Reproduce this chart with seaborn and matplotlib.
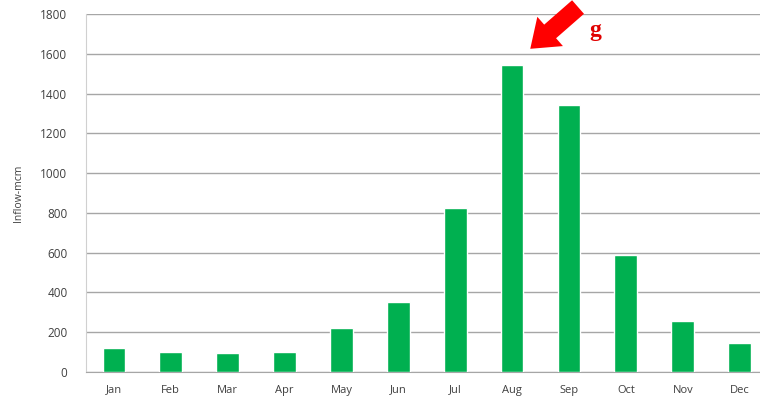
import matplotlib
matplotlib.use("Agg")
import matplotlib.pyplot as plt
import seaborn as sns
import pandas as pd

months = ["Jan", "Feb", "Mar", "Apr", "May", "Jun", "Jul", "Aug", "Sep", "Oct", "Nov", "Dec"]
inflow = [120, 100, 95, 100, 220, 350, 825, 1545, 1340, 590, 255, 145]
y_ticks = [0, 200, 400, 600, 800, 1000, 1200, 1400, 1600, 1800]

sns.set_style("white")
plt.rcParams["font.family"] = ["Open Sans", "DejaVu Sans"]

df = pd.DataFrame({"month": months, "inflow": inflow})

fig = plt.figure(figsize=(7.6, 4.11), dpi=100)
ax = fig.add_axes([85.5 / 760, 39 / 411, 682.5 / 760, 358 / 411])

sns.barplot(data=df, x="month", y="inflow", color="#00B050", saturation=1,
            width=0.40, ax=ax, zorder=3)

ax.set_ylim(0, 1800)
ax.set_xlim(-0.5, 11.5)
ax.set_yticks(y_ticks)
ax.yaxis.grid(True, color="#a6a6a6", linewidth=1.0, zorder=0)
ax.set_axisbelow(True)

for side in ["top", "right"]:
    ax.spines[side].set_visible(False)
ax.spines["left"].set_color("#d0d0d0")
ax.spines["bottom"].set_color("#a6a6a6")

ax.tick_params(axis="y", length=5, color="#a6a6a6", labelsize=8.5, pad=8, labelcolor="#404040")
ax.tick_params(axis="x", length=0, labelsize=8, pad=9, labelcolor="#404040")
# category separators below the x axis
ax.set_xticks([i + 0.5 for i in range(-1, 12)], minor=True)
ax.tick_params(axis="x", which="minor", length=5, color="#c0c0c0", direction="out")

ax.set_xlabel("")
ax.set_ylabel("Inflow-mcm", fontsize=7.5, color="#404040", labelpad=12)

# red block arrow pointing at the August peak
ax.annotate("", xy=(7.32, 1625), xytext=(8.16, 1835),
            arrowprops=dict(arrowstyle="simple,head_width=2.8,head_length=1.9,tail_width=1.3",
                            mutation_scale=10, color="#ff0000", lw=0, shrinkA=0, shrinkB=0),
            annotation_clip=False)
ax.text(8.47, 1715, "g", color="#e00000", fontsize=17, fontweight="bold",
        family="Liberation Serif", ha="center", va="center")

fig.savefig("out.png", dpi=100)
